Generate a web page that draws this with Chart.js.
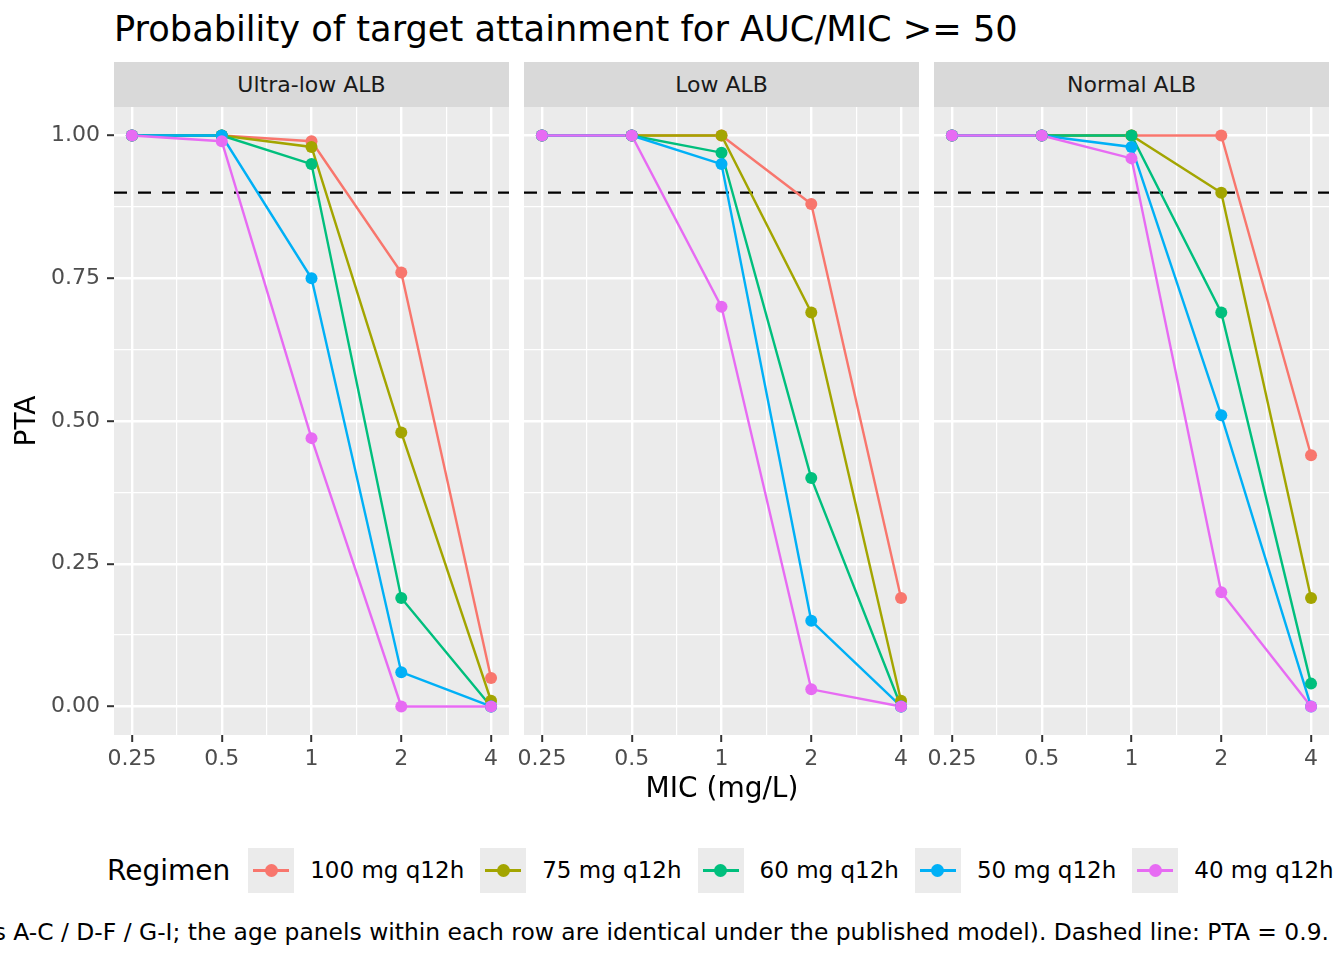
<!doctype html>
<html lang="en">

<head>
    <meta charset="utf-8">
    <title>Probability of target attainment</title>
    <style>
        * {
            margin: 0;
            padding: 0;
            font-family: "DejaVu Sans", sans-serif;
        }

        body {
            width: 1344px;
            height: 960px;
            background: #FFFFFF;
            position: relative;
            overflow: hidden;
        }

        .txt {
            position: absolute;
            white-space: nowrap;
        }

        .title {
            left: 114px;
            top: 9px;
            height: 40px;
            line-height: 40px;
            font-size: 35.2px;
            color: #000000;
        }

        .strip {
            position: absolute;
            top: 62px;
            height: 45px;
            line-height: 45px;
            width: 395px;
            background: #D9D9D9;
            color: #1A1A1A;
            font-size: 22px;
            text-align: center;
        }

        canvas {
            position: absolute;
            top: 107px;
        }

        .axisTitle {
            font-size: 28px;
            color: #000000;
            height: 40px;
            line-height: 40px;
        }

        .legend {
            position: absolute;
            left: 107px;
            top: 848px;
            height: 45px;
            display: flex;
            align-items: center;
            white-space: nowrap;
        }

        .legend > span {
            flex-shrink: 0;
        }

        .legend .head {
            font-size: 28px;
            margin-right: 18px;
            line-height: 45px;
        }

        .key {
            position: relative;
            width: 46px;
            height: 45px;
            background: #EBEBEB;
            margin-right: 16px;
        }

        .key .ln {
            position: absolute;
            left: 5px;
            width: 36px;
            top: 21px;
            height: 2.6px;
        }

        .key .pt {
            position: absolute;
            left: 16.5px;
            top: 16px;
            width: 13px;
            height: 13px;
            border-radius: 50%;
        }

        .legend .lab {
            font-size: 23px;
            margin-right: 16px;
            line-height: 45px;
        }

        .caption {
            right: 15px;
            top: 912px;
            height: 40px;
            line-height: 40px;
            font-size: 23.4px;
            color: #000000;
        }
    </style>
</head>

<body>
    <div class="txt title">Probability of target attainment for AUC/MIC &gt;= 50</div>

    <div class="strip" style="left:114px">Ultra-low ALB</div>
    <div class="strip" style="left:524px">Low ALB</div>
    <div class="strip" style="left:934px">Normal ALB</div>

    <canvas id="panel1" width="509" height="668" style="left:0px"></canvas>
    <canvas id="panel2" width="405" height="668" style="left:514px"></canvas>
    <canvas id="panel3" width="405" height="668" style="left:924px"></canvas>

    <div class="txt axisTitle" style="left:-14px; top:401px; width:80px; text-align:center; transform:rotate(-90deg)">PTA</div>
    <div class="txt axisTitle" style="left:522px; top:768px; width:400px; text-align:center">MIC (mg/L)</div>

    <div class="legend" id="legend"><span class="head">Regimen</span></div>

    <div class="txt caption">s A-C / D-F / G-I; the age panels within each row are identical under the published model). Dashed line: PTA = 0.9.</div>

    <script src="https://cdn.jsdelivr.net/npm/chart.js"></script>
    <script>
        // data
        const mic = [0.25, 0.5, 1, 2, 4];
        const regimens = ['100 mg q12h', '75 mg q12h', '60 mg q12h', '50 mg q12h', '40 mg q12h'];
        const colors = ['#F8766D', '#A3A500', '#00BF7D', '#00B0F6', '#E76BF3'];
        const targetPTA = 0.9;

        // one row per regimen, one column per MIC
        const ultraLowPTA = [
            [1.00, 1.00, 0.99, 0.76, 0.05],
            [1.00, 1.00, 0.98, 0.48, 0.01],
            [1.00, 1.00, 0.95, 0.19, 0.00],
            [1.00, 1.00, 0.75, 0.06, 0.00],
            [1.00, 0.99, 0.47, 0.00, 0.00]
        ];
        const lowPTA = [
            [1.00, 1.00, 1.00, 0.88, 0.19],
            [1.00, 1.00, 1.00, 0.69, 0.01],
            [1.00, 1.00, 0.97, 0.40, 0.00],
            [1.00, 1.00, 0.95, 0.15, 0.00],
            [1.00, 1.00, 0.70, 0.03, 0.00]
        ];
        const normalPTA = [
            [1.00, 1.00, 1.00, 1.00, 0.44],
            [1.00, 1.00, 1.00, 0.90, 0.19],
            [1.00, 1.00, 1.00, 0.69, 0.04],
            [1.00, 1.00, 0.98, 0.51, 0.00],
            [1.00, 1.00, 0.96, 0.20, 0.00]
        ];

        const yMajor = [0, 0.25, 0.5, 0.75, 1];

        // minor gridlines sit halfway between the majors
        const xTicks = [];
        mic.forEach(function (m, i) {
            xTicks.push(m);
            if (i < mic.length - 1) xTicks.push(Math.sqrt(m * mic[i + 1]));
        });
        const yTicks = [];
        yMajor.forEach(function (v, i) {
            yTicks.push(v);
            if (i < yMajor.length - 1) yTicks.push((v + yMajor[i + 1]) / 2);
        });

        const isMajorX = v => mic.some(m => Math.abs(m - v) < 1e-9);
        const isMajorY = v => yMajor.some(m => Math.abs(m - v) < 1e-9);

        const panelBackground = {
            id: 'panelBackground',
            beforeDraw(chart) {
                const { ctx, chartArea: a } = chart;
                ctx.save();
                ctx.fillStyle = '#EBEBEB';
                ctx.fillRect(a.left, a.top, a.right - a.left, a.bottom - a.top);
                ctx.restore();
            }
        };

        const targetLine = {
            id: 'targetLine',
            beforeDatasetsDraw(chart) {
                const { ctx, chartArea: a } = chart;
                const y = chart.scales.y.getPixelForValue(targetPTA);
                ctx.save();
                ctx.strokeStyle = '#000000';
                ctx.lineWidth = 2.4;
                ctx.setLineDash([13, 11]);
                ctx.beginPath();
                ctx.moveTo(a.left, y);
                ctx.lineTo(a.right, y);
                ctx.stroke();
                ctx.restore();
            }
        };

        function makePanel(id, values, yAxisWidth, showY) {
            const datasets = [];
            // lines first (underneath), points on top, later regimens above earlier
            regimens.forEach(function (r, k) {
                datasets.push({
                    label: r,
                    data: mic.map((m, j) => ({ x: m, y: values[k][j] })),
                    borderColor: colors[k],
                    borderWidth: 2.4,
                    pointRadius: 0,
                    tension: 0,
                    order: 20 - k
                });
            });
            regimens.forEach(function (r, k) {
                datasets.push({
                    label: r,
                    data: mic.map((m, j) => ({ x: m, y: values[k][j] })),
                    showLine: false,
                    backgroundColor: colors[k],
                    pointRadius: 6,
                    pointBorderWidth: 0,
                    order: 10 - k
                });
            });

            return new Chart(document.getElementById(id), {
                type: 'line',
                data: { datasets: datasets },
                options: {
                    responsive: false,
                    animation: false,
                    events: [],
                    layout: { padding: 0, autoPadding: false },
                    plugins: {
                        legend: { display: false },
                        tooltip: { enabled: false }
                    },
                    scales: {
                        x: {
                            type: 'logarithmic',
                            min: mic[0] / Math.pow(2, 0.2),
                            max: mic[mic.length - 1] * Math.pow(2, 0.2),
                            afterBuildTicks: s => { s.ticks = xTicks.map(v => ({ value: v })); },
                            afterFit: s => { s.height = 40; s.paddingLeft = 0; s.paddingRight = 0; },
                            border: { display: false },
                            grid: {
                                color: '#FFFFFF',
                                lineWidth: c => isMajorX(c.tick.value) ? 2.4 : 1.2,
                                tickColor: c => isMajorX(c.tick.value) ? '#333333' : 'rgba(0,0,0,0)',
                                tickWidth: 2,
                                tickLength: 7
                            },
                            ticks: {
                                autoSkip: false,
                                maxRotation: 0,
                                padding: 4,
                                color: '#4D4D4D',
                                font: { family: 'DejaVu Sans', size: 22 },
                                callback: v => isMajorX(v) ? String(v) : ''
                            }
                        },
                        y: {
                            type: 'linear',
                            min: -0.05,
                            max: 1.05,
                            afterBuildTicks: s => { s.ticks = yTicks.map(v => ({ value: v })); },
                            afterFit: s => { s.width = yAxisWidth; s.paddingTop = 0; s.paddingBottom = 0; },
                            border: { display: false },
                            grid: {
                                color: '#FFFFFF',
                                lineWidth: c => isMajorY(c.tick.value) ? 2.4 : 1.2,
                                tickColor: c => isMajorY(c.tick.value) ? '#333333' : 'rgba(0,0,0,0)',
                                tickWidth: 2,
                                tickLength: 7,
                                drawTicks: showY
                            },
                            ticks: {
                                display: showY,
                                padding: 7,
                                color: '#4D4D4D',
                                font: { family: 'DejaVu Sans', size: 22 },
                                callback: v => isMajorY(v) ? v.toFixed(2) : ''
                            }
                        }
                    }
                },
                plugins: [panelBackground, targetLine]
            });
        }

        makePanel('panel1', ultraLowPTA, 114, true);
        makePanel('panel2', lowPTA, 10, false);
        makePanel('panel3', normalPTA, 10, false);

        // legend keys
        const legend = document.getElementById('legend');
        regimens.forEach(function (r, k) {
            const key = document.createElement('span');
            key.className = 'key';
            key.innerHTML = '<span class="ln" style="background:' + colors[k] + '"></span>' +
                '<span class="pt" style="background:' + colors[k] + '"></span>';
            const lab = document.createElement('span');
            lab.className = 'lab';
            lab.textContent = r;
            legend.appendChild(key);
            legend.appendChild(lab);
        });
    </script>
</body>

</html>
